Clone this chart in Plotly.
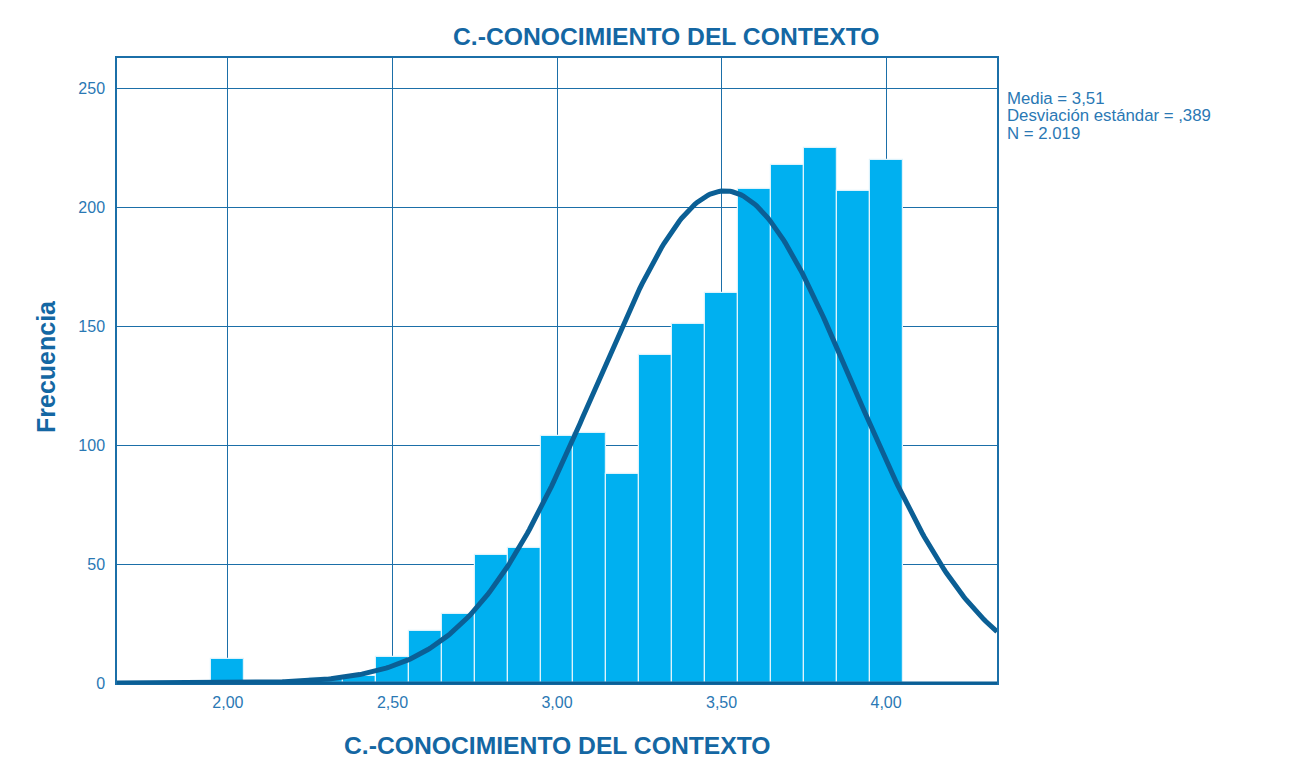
import numpy as np
import plotly.graph_objects as go

# Data
bin_centers = [2.00, 2.30, 2.40, 2.50, 2.60, 2.70, 2.80, 2.90, 3.00, 3.10, 3.20,
               3.30, 3.40, 3.50, 3.60, 3.70, 3.80, 3.90, 4.00]
frequencies = [10, 2, 3, 11, 22, 29, 54, 57, 104, 105, 88,
               138, 151, 164, 208, 218, 225, 207, 220]
bin_width = 0.1
mean_val = 3.51
sd_val = 0.389
n_val = 2019
x_tickvals = [2.0, 2.5, 3.0, 3.5, 4.0]
x_ticktext = ["2,00", "2,50", "3,00", "3,50", "4,00"]
y_tickvals = [0, 50, 100, 150, 200, 250]
stats_lines = ["Media = 3,51", "Desviación estándar = ,389", "N = 2.019"]

x_range = [1.663, 4.337]
y_range = [0, 263]

AX = "#1B6FA8"
TXT = "#2A78B4"
TITLE = "#1467A3"
BAR = "#00B0F0"
CURVE = "#0B5F95"

# plot area in page pixels (reference)
PL, PR, PT, PB = 117, 997, 58, 683
OFF = 8  # page body offset
W, H = 1310, 758
PW, PH = PR - PL, PB - PT


def px_x(x):
    return (x - PL) / PW


def px_y(y):
    return 1 - (y - PT) / PH


xs = np.linspace(x_range[0], x_range[1], 400)
ys = n_val * bin_width * np.exp(-0.5 * ((xs - mean_val) / sd_val) ** 2) / (sd_val * np.sqrt(2 * np.pi))

fig = go.Figure()
fig.add_trace(go.Bar(
    x=bin_centers, y=frequencies, width=bin_width,
    marker=dict(color=BAR, line=dict(color="#DDF3FC", width=1.2)),
    hoverinfo="x+y", showlegend=False,
))
fig.add_trace(go.Scatter(
    x=xs, y=ys, mode="lines", line=dict(color=CURVE, width=5),
    showlegend=False, hoverinfo="skip",
))

annotations = [
    dict(text="<b>C.-CONOCIMIENTO DEL CONTEXTO</b>", xref="paper", yref="paper",
         x=px_x(666), y=px_y(37), xanchor="center", yanchor="middle",
         showarrow=False, font=dict(size=24.7, color=TITLE)),
    dict(text="<b>C.-CONOCIMIENTO DEL CONTEXTO</b>", xref="paper", yref="paper",
         x=px_x(557), y=px_y(745), xanchor="center", yanchor="middle",
         showarrow=False, font=dict(size=24.7, color=TITLE)),
    dict(text="<b>Frecuencia</b>", xref="paper", yref="paper", textangle=-90,
         x=px_x(46), y=px_y(367), xanchor="center", yanchor="middle",
         showarrow=False, font=dict(size=25, color=TITLE)),
]
for i, line in enumerate(stats_lines):
    annotations.append(dict(
        text=line, xref="paper", yref="paper", x=px_x(1005), y=px_y(98 + 17.5 * i),
        xanchor="left", yanchor="middle", align="left", showarrow=False,
        font=dict(size=16.8, color=TXT)))

fig.update_layout(
    width=W, height=H,
    paper_bgcolor="white", plot_bgcolor="white",
    margin=dict(l=PL - OFF, r=W - (PR - OFF), t=PT - OFF, b=H - (PB - OFF)),
    bargap=0,
    font=dict(family="Liberation Sans, Arial, sans-serif", color=TXT),
    xaxis=dict(
        range=x_range, tickvals=x_tickvals, ticktext=x_ticktext,
        showgrid=True, gridcolor=AX, gridwidth=1.2,
        showline=True, linecolor=AX, linewidth=1.5, mirror=True,
        zeroline=False, ticks="", tickfont=dict(size=16, color=TXT),
        ticklabelstandoff=4,
    ),
    yaxis=dict(
        range=y_range, tickvals=y_tickvals,
        showgrid=True, gridcolor=AX, gridwidth=1.2,
        showline=True, linecolor=AX, linewidth=1.5, mirror=True,
        zeroline=False, ticks="", tickfont=dict(size=16, color=TXT),
        ticklabelstandoff=7,
    ),
    annotations=annotations,
)
fig.add_shape(type="line", xref="paper", yref="paper", x0=0, x1=1, y0=0, y1=0,
              line=dict(color=CURVE, width=3))

fig.write_html("out.html")
